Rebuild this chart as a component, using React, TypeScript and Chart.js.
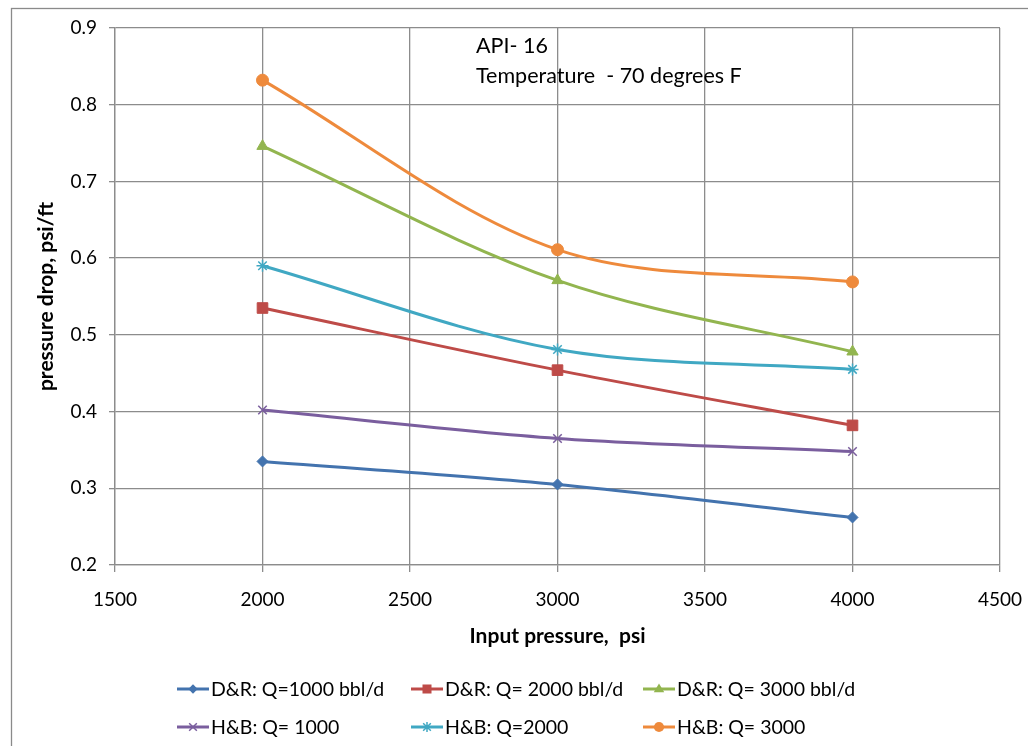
import React, { useEffect, useRef } from 'react';
import { Chart, registerables } from 'chart.js';

Chart.register(...registerables);

// ---- data ----
const inputPressure = [2000, 3000, 4000];
const drQ1000 = [0.335, 0.305, 0.262];
const drQ2000 = [0.535, 0.454, 0.382];
const drQ3000 = [0.746, 0.571, 0.478];
const hbQ1000 = [0.402, 0.365, 0.348];
const hbQ2000 = [0.590, 0.481, 0.455];
const hbQ3000 = [0.832, 0.611, 0.569];

const seriesLabels = [
  'D&R: Q=1000 bbl/d',
  'D&R: Q= 2000 bbl/d',
  'D&R: Q= 3000 bbl/d',
  'H&B: Q= 1000',
  'H&B: Q=2000',
  'H&B: Q= 3000',
];
const seriesValues = [drQ1000, drQ2000, drQ3000, hbQ1000, hbQ2000, hbQ3000];
const seriesColors = ['#4373AE', '#BE4B48', '#92B54F', '#7A5E9E', '#40A8C3', '#EE8A3C'];
const seriesMarkers = ['rectRot', 'rect', 'triangle', 'crossRot', 'star', 'circle'];
const markerRadius = [5.5, 7.5, 6.5, 6, 6, 6];

const xMin = 1500;
const xMax = 4500;
const xStep = 500;
const yMin = 0.2;
const yMax = 0.9;
const yStep = 0.1;

const xTitle = 'Input pressure,  psi';
const yTitle = 'pressure drop, psi/ft';
const noteLines = ['API- 16', 'Temperature  - 70 degrees F'];

const FONT = 'Lato, "Open Sans", sans-serif';
const GRID = '#8c8c8c';

function drawMarker(ctx: CanvasRenderingContext2D, style: string, x: number, y: number, r: number, color: string) {
  ctx.save();
  ctx.fillStyle = color;
  ctx.strokeStyle = color;
  ctx.lineWidth = 1.5;
  ctx.beginPath();
  if (style === 'rectRot') {
    ctx.moveTo(x, y - r);
    ctx.lineTo(x + r, y);
    ctx.lineTo(x, y + r);
    ctx.lineTo(x - r, y);
    ctx.closePath();
    ctx.fill();
  } else if (style === 'rect') {
    const s = r * Math.SQRT1_2;
    ctx.rect(x - s, y - s, 2 * s, 2 * s);
    ctx.fill();
  } else if (style === 'triangle') {
    ctx.moveTo(x, y - r);
    ctx.lineTo(x + r * 0.95, y + r * 0.6);
    ctx.lineTo(x - r * 0.95, y + r * 0.6);
    ctx.closePath();
    ctx.fill();
  } else if (style === 'circle') {
    ctx.arc(x, y, r, 0, Math.PI * 2);
    ctx.fill();
  } else if (style === 'crossRot') {
    const d = r * 0.75;
    ctx.moveTo(x - d, y - d);
    ctx.lineTo(x + d, y + d);
    ctx.moveTo(x + d, y - d);
    ctx.lineTo(x - d, y + d);
    ctx.stroke();
  } else if (style === 'star') {
    const d = r * 0.75;
    ctx.moveTo(x - d, y - d);
    ctx.lineTo(x + d, y + d);
    ctx.moveTo(x + d, y - d);
    ctx.lineTo(x - d, y + d);
    ctx.moveTo(x, y - r);
    ctx.lineTo(x, y + r);
    ctx.stroke();
  }
  ctx.restore();
}

const overlayPlugin = {
  id: 'overlay',
  beforeDraw(chart: any) {
    const ctx = chart.ctx as CanvasRenderingContext2D;
    ctx.save();
    ctx.fillStyle = '#ffffff';
    ctx.fillRect(0, 0, chart.width, chart.height);
    ctx.strokeStyle = '#8a8a8a';
    ctx.lineWidth = 1.3;
    ctx.strokeRect(11.5, 8.5, 1100, 900);
    ctx.restore();
  },
  afterDraw(chart: any) {
    const ctx = chart.ctx as CanvasRenderingContext2D;
    const area = chart.chartArea;
    ctx.save();
    // annotation
    ctx.fillStyle = '#000';
    ctx.font = `21.5px ${FONT}`;
    ctx.textAlign = 'left';
    ctx.textBaseline = 'alphabetic';
    ctx.fillText(noteLines[0], 476, 53);
    ctx.fillText(noteLines[1], 476, 83);

    // x title
    ctx.font = `bold 21px ${FONT}`;
    ctx.textAlign = 'center';
    ctx.fillText(xTitle, (area.left + area.right) / 2, 643);

    // y title
    ctx.save();
    ctx.translate(53, (area.top + area.bottom) / 2);
    ctx.rotate(-Math.PI / 2);
    ctx.textAlign = 'center';
    ctx.fillText(yTitle, 0, 0);
    ctx.restore();

    // legend
    const colX = [177, 411, 643];
    const rowY = [696, 734];
    ctx.font = `19.5px ${FONT}`;
    ctx.textAlign = 'left';
    for (let i = 0; i < seriesLabels.length; i++) {
      const cx = colX[i % 3];
      const by = rowY[Math.floor(i / 3)];
      const my = by - 7;
      ctx.strokeStyle = seriesColors[i];
      ctx.lineWidth = 3;
      ctx.beginPath();
      ctx.moveTo(cx, my);
      ctx.lineTo(cx + 32, my);
      ctx.stroke();
      drawMarker(ctx, seriesMarkers[i], cx + 16, my, markerRadius[i] * 0.85, seriesColors[i]);
      ctx.fillStyle = '#000';
      ctx.fillText(seriesLabels[i], cx + 34, by);
    }
    ctx.restore();
  },
};

export default function App() {
  const canvasRef = useRef<HTMLCanvasElement | null>(null);

  useEffect(() => {
    const canvas = canvasRef.current;
    if (!canvas) return;
    const datasets = seriesLabels.map((label, i) => ({
      label,
      data: inputPressure.map((x, j) => ({ x, y: seriesValues[i][j] })),
      borderColor: seriesColors[i],
      backgroundColor: seriesColors[i],
      pointBackgroundColor: seriesColors[i],
      pointBorderColor: seriesColors[i],
      pointStyle: seriesMarkers[i] as any,
      pointRadius: markerRadius[i],
      pointBorderWidth: seriesMarkers[i] === 'crossRot' || seriesMarkers[i] === 'star' ? 1.5 : 1,
      borderWidth: 3,
      tension: 0.33,
      fill: false,
    }));

    const chart = new Chart(canvas, {
      type: 'line',
      data: { datasets },
      plugins: [overlayPlugin],
      options: {
        responsive: false,
        animation: false,
        devicePixelRatio: 1,
        layout: { padding: { left: 0, top: 28, right: 28, bottom: 0 } },
        plugins: {
          legend: { display: false },
          title: { display: false },
          tooltip: { enabled: false },
        },
        scales: {
          x: {
            type: 'linear',
            min: xMin,
            max: xMax,
            ticks: {
              stepSize: xStep,
              color: '#000',
              font: { family: FONT, size: 19 },
              padding: 16,
              maxRotation: 0,
              callback: (v: any) => String(v),
            },
            grid: { color: GRID, lineWidth: 1.3, tickLength: 7, tickColor: GRID },
            border: { color: GRID, width: 1.3 },
            afterFit: (scale: any) => {
              scale.height = 746 - 565;
              scale.paddingLeft = 0;
              scale.paddingRight = 0;
            },
          },
          y: {
            type: 'linear',
            min: yMin,
            max: yMax,
            ticks: {
              stepSize: yStep,
              color: '#000',
              font: { family: FONT, size: 19 },
              padding: 12,
              callback: (v: any) => Number(v).toFixed(1),
            },
            grid: { color: GRID, lineWidth: 1.3, tickLength: 6, tickColor: GRID },
            border: { color: GRID, width: 1.3 },
            afterFit: (scale: any) => {
              scale.width = 115;
              scale.paddingTop = 0;
              scale.paddingBottom = 0;
            },
          },
        },
      },
    });
    return () => chart.destroy();
  }, []);

  return (
    <div style={{ position: 'fixed', left: 0, top: 0, width: 1028, height: 746, background: '#fff' }}>
      <canvas ref={canvasRef} width={1028} height={746} />
    </div>
  );
}
